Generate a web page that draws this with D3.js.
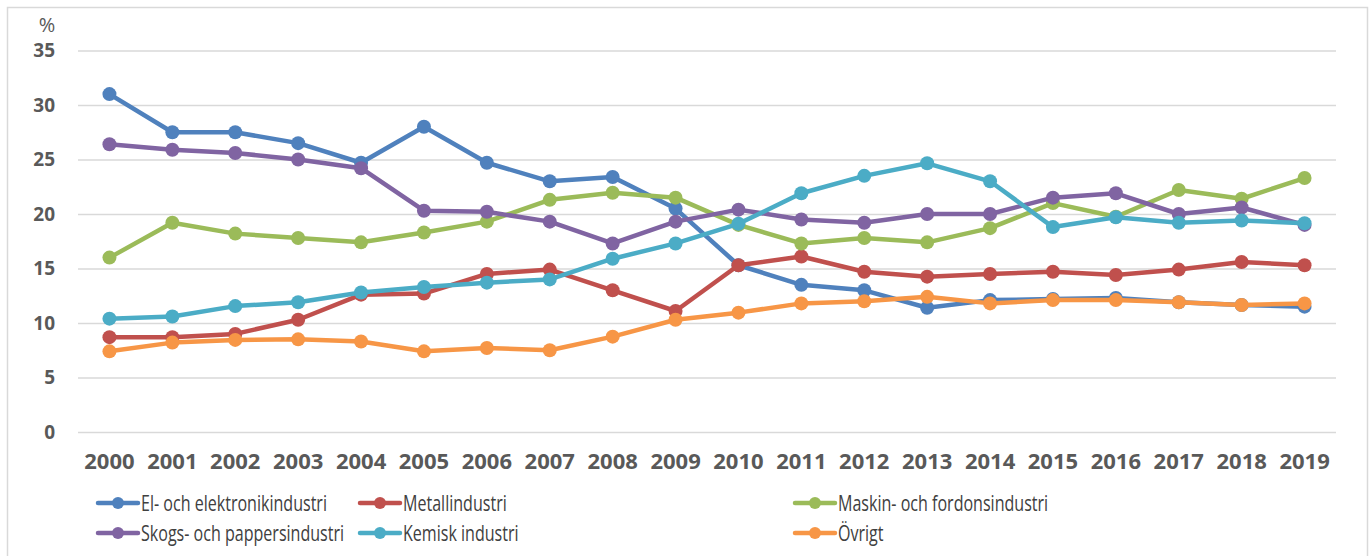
<!DOCTYPE html>
<html>
<head>
<meta charset="utf-8">
<script src="https://cdn.jsdelivr.net/npm/d3@7"></script>
<style>
  html, body { margin: 0; padding: 0; background: #fff; }
  svg { display: block; }
</style>
</head>
<body>
<div id="chart"></div>
<script>
const years = ['2000','2001','2002','2003','2004','2005','2006','2007','2008','2009',
  '2010','2011','2012','2013','2014','2015','2016','2017','2018','2019'];
const yTicks = [0, 5, 10, 15, 20, 25, 30, 35];

const elektronik = [31.0, 27.5, 27.5, 26.5, 24.7, 28.0, 24.7, 23.0, 23.4, 20.5,
  15.3, 13.5, 13.0, 11.4, 12.1, 12.2, 12.3, 11.9, 11.65, 11.5];
const metall = [8.7, 8.7, 9.0, 10.3, 12.6, 12.7, 14.5, 14.9, 13.0, 11.1,
  15.3, 16.1, 14.7, 14.25, 14.5, 14.7, 14.4, 14.9, 15.6, 15.3];
const maskin = [16.0, 19.2, 18.2, 17.8, 17.4, 18.3, 19.3, 21.3, 21.95, 21.5,
  19.0, 17.3, 17.8, 17.4, 18.7, 21.0, 19.75, 22.2, 21.4, 23.3];
const skogs = [26.4, 25.9, 25.6, 25.0, 24.2, 20.3, 20.2, 19.3, 17.3, 19.3,
  20.4, 19.5, 19.2, 20.0, 20.0, 21.5, 21.9, 20.0, 20.6, 19.0];
const kemisk = [10.4, 10.6, 11.55, 11.9, 12.8, 13.3, 13.7, 14.0, 15.9, 17.3,
  19.1, 21.9, 23.5, 24.65, 23.0, 18.8, 19.7, 19.2, 19.4, 19.15];
const ovrigt = [7.4, 8.2, 8.45, 8.5, 8.3, 7.4, 7.7, 7.5, 8.75, 10.3,
  10.95, 11.8, 12.0, 12.4, 11.8, 12.1, 12.1, 11.9, 11.65, 11.8];

const seriesNames = ['El- och elektronikindustri', 'Metallindustri', 'Maskin- och fordonsindustri',
  'Skogs- och pappersindustri', 'Kemisk industri', 'Övrigt'];
const seriesColors = ['#4F81BD', '#C0504D', '#9BBB59', '#8064A2', '#4BACC6', '#F79646'];
const seriesValues = [elektronik, metall, maskin, skogs, kemisk, ovrigt];

const width = 1370;
const height = 556;
const font = "'Open Sans', sans-serif";
// the original uses a narrow font, so legend text is squeezed horizontally
const condense = 0.73;

const svg = d3.select('#chart')
  .append('svg')
  .attr('width', width)
  .attr('height', height);

// outer chart border
svg.append('rect')
  .attr('x', 7.5)
  .attr('y', 7.5)
  .attr('width', 1360)
  .attr('height', 560)
  .attr('fill', '#fff')
  .attr('stroke', '#d9d9d9')
  .attr('stroke-width', 1.5);

const x = d3.scaleBand()
  .domain(years)
  .range([78, 1336])
  .padding(0);

const y = d3.scaleLinear()
  .domain([0, 35])
  .range([432, 50.5]);

// gridlines + y labels
const yAxis = svg.append('g')
  .attr('transform', 'translate(78,0)')
  .call(d3.axisLeft(y).tickValues(yTicks).tickSize(-(1336 - 78)).tickPadding(23));
yAxis.select('.domain').remove();
yAxis.selectAll('.tick line')
  .attr('stroke', '#d9d9d9')
  .attr('stroke-width', 1.5);
yAxis.selectAll('.tick text')
  .style('font-family', font)
  .style('font-weight', 'bold')
  .style('font-size', '19px')
  .attr('fill', '#595959');

svg.append('text')
  .attr('x', 47)
  .attr('y', 32)
  .attr('text-anchor', 'middle')
  .text('%')
  .style('font-family', font)
  .style('font-size', '20px')
  .attr('fill', '#595959');

// x labels
const xAxis = svg.append('g')
  .attr('transform', 'translate(0,432)')
  .call(d3.axisBottom(x).tickSize(0).tickPadding(21));
xAxis.select('.domain').remove();
xAxis.selectAll('.tick text')
  .style('font-family', font)
  .style('font-weight', 'bold')
  .style('font-size', '22px')
  .attr('fill', '#595959');

const cx = d => x(d) + x.bandwidth() / 2;

const line = d3.line()
  .x((d, i) => cx(years[i]))
  .y(d => y(d));

seriesValues.forEach((vals, s) => {
  const g = svg.append('g');
  g.append('path')
    .datum(vals)
    .attr('d', line)
    .attr('fill', 'none')
    .attr('stroke', seriesColors[s])
    .attr('stroke-width', 4.5)
    .attr('stroke-linejoin', 'round');
  g.selectAll('circle')
    .data(vals)
    .enter()
    .append('circle')
    .attr('cx', (d, i) => cx(years[i]))
    .attr('cy', d => y(d))
    .attr('r', 7)
    .attr('fill', seriesColors[s]);
});

// legend
const legendCols = [98, 360, 795];
const legendRows = [503, 533];

const legend = svg.selectAll('.legend')
  .data(seriesNames)
  .enter()
  .append('g')
  .attr('class', 'legend')
  .attr('transform', (d, i) => `translate(${legendCols[i % 3]}, ${legendRows[Math.floor(i / 3)]})`);

legend.append('line')
  .attr('x1', 0)
  .attr('x2', 40)
  .attr('y1', 0)
  .attr('y2', 0)
  .attr('stroke', (d, i) => seriesColors[i])
  .attr('stroke-width', 4.5)
  .attr('stroke-linecap', 'round');

legend.append('circle')
  .attr('cx', 20)
  .attr('cy', 0)
  .attr('r', 6)
  .attr('fill', (d, i) => seriesColors[i]);

legend.append('text')
  .attr('transform', `translate(43,0) scale(${condense},1)`)
  .attr('dy', '0.35em')
  .text(d => d)
  .style('font-family', font)
  .style('font-size', '22px')
  .attr('fill', '#404040');
</script>
</body>
</html>
